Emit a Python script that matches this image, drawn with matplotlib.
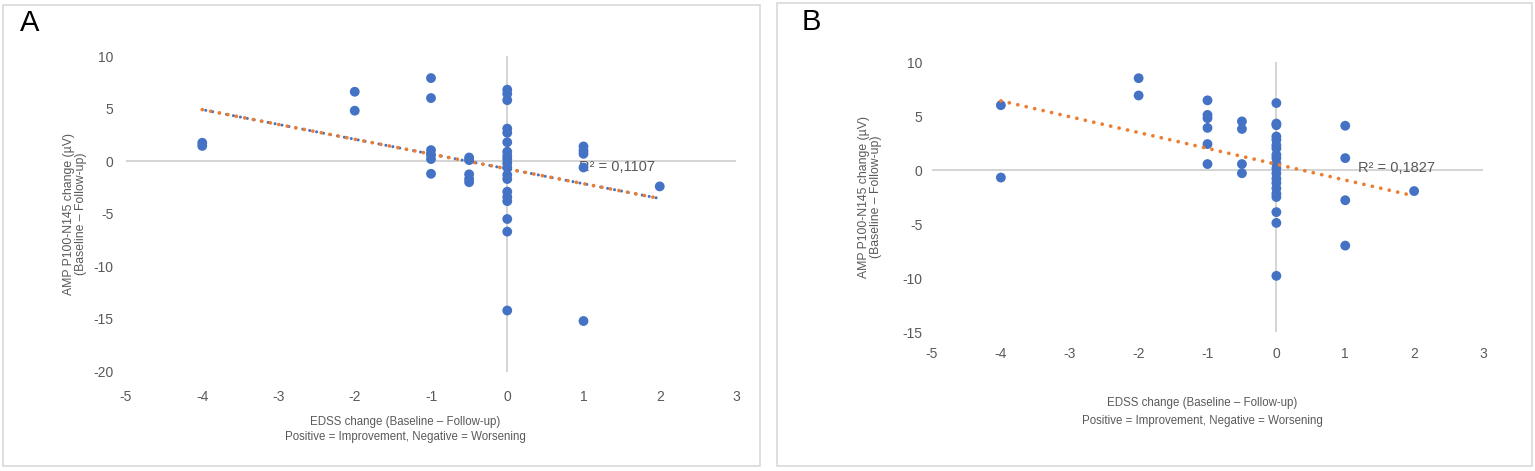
import matplotlib
matplotlib.use("Agg")
import matplotlib.pyplot as plt
from matplotlib.patches import Rectangle

plt.rcParams['font.family'] = ['Liberation Sans', 'DejaVu Sans']
plt.rcParams['axes.unicode_minus'] = False

# ---------------- data ----------------
xticks = [-5, -4, -3, -2, -1, 0, 1, 2, 3]
yticks_A = [10, 5, 0, -5, -10, -15, -20]
yticks_B = [10, 5, 0, -5, -10, -15]

A_x = [-4, -4,
       -2, -2,
       -1, -1, -1, -1, -1, -1,
       -0.5, -0.5, -0.5, -0.5, -0.5,
       0, 0, 0, 0, 0, 0, 0, 0, 0, 0, 0, 0, 0, 0, 0, 0, 0, 0, 0,
       1, 1, 1, 1, 1,
       2]
A_y = [1.75, 1.45,
       6.6, 4.8,
       7.9, 6.0, 1.05, 0.6, 0.2, -1.2,
       0.35, 0.1, -1.25, -1.7, -2.0,
       6.8, 6.4, 5.8, 3.1, 2.7, 1.8, 0.9, 0.5, 0.2, -0.2, -0.6, -1.3, -1.7,
       -2.9, -3.4, -3.8, -5.5, -6.7, -14.2,
       1.4, 1.0, 0.7, -0.6, -15.2,
       -2.4]

B_x = [-4, -4,
       -2, -2,
       -1, -1, -1, -1, -1, -1,
       -0.5, -0.5, -0.5, -0.5,
       0, 0, 0, 0, 0, 0, 0, 0, 0, 0, 0, 0, 0, 0, 0, 0, 0, 0, 0, 0,
       1, 1, 1, 1,
       2]
B_y = [6.0, -0.7,
       8.5, 6.9,
       6.45, 5.1, 4.8, 3.9, 2.4, 0.55,
       4.5, 3.8, 0.55, -0.3,
       6.2, 4.3, 4.15, 3.1, 2.8, 2.3, 2.0, 1.4, 1.1, 0.6, 0.15, -0.8, -1.2,
       -1.7, -2.2, -2.5, -3.9, -4.9, -9.8, -0.3,
       4.1, 1.1, -2.8, -7.0,
       -1.95]

trend_x = [-4, 2]
trend_A = [4.9, -3.55]
trend_B = [6.4, -2.4]

r2_A = "R² = 0,1107"
r2_B = "R² = 0,1827"

xlabel_1 = "EDSS change (Baseline – Follow-up)"
xlabel_2 = "Positive = Improvement, Negative = Worsening"
ylabel = "AMP P100-N145 change (µV)\n(Baseline – Follow-up)"

# ---------------- figure ----------------
W, H = 1535, 471
fig = plt.figure(figsize=(W / 100, H / 100), dpi=100)
fig.patch.set_facecolor('white')

def rect(l, r, t, b):
    return [l / W, 1 - b / H, (r - l) / W, (b - t) / H]

TXT = '#595959'
GRID = '#c9c9c9'
BLUE = '#4472C4'
ORANGE = '#ED7D31'

# panel frames
for (l, t, r, b) in [(3, 5, 760, 466), (777, 3, 1532, 466)]:
    fig.patches.append(Rectangle((l / W, 1 - b / H), (r - l) / W, (b - t) / H,
                                 transform=fig.transFigure, facecolor='none',
                                 edgecolor='#d9d9d9', lw=1.2))

def style(ax, ylim, yticks):
    ax.set_xlim(-5, 3)
    ax.set_ylim(*ylim)
    for s in ax.spines.values():
        s.set_visible(False)
    ax.axhline(0, color=GRID, lw=1.1, zorder=1)
    ax.axvline(0, color=GRID, lw=1.1, zorder=1)
    ax.set_xticks(xticks)
    ax.set_yticks(yticks)
    ax.tick_params(length=0, labelsize=10, labelcolor=TXT)
    ax.set_facecolor('none')

DOT = (0, (0.01, 2.3))

# Panel A
axA = fig.add_axes(rect(126, 736, 56, 371.5))
style(axA, (-20, 10), yticks_A)
axA.tick_params(axis='x', pad=13)
axA.tick_params(axis='y', pad=9)
axA.text(0.94, -0.52, r2_A, fontsize=10.5, color=TXT, ha='left', va='center', zorder=2)
axA.plot(trend_x, trend_A, color=BLUE, lw=2.2, linestyle=(1.15, (0.01, 2.3)),
         dash_capstyle='round', zorder=2)
axA.plot(trend_x, trend_A, color=ORANGE, lw=2.7, linestyle=DOT,
         dash_capstyle='round', zorder=2)
axA.scatter(A_x, A_y, s=50, color=BLUE, edgecolors='none', zorder=3)

# Panel B
axB = fig.add_axes(rect(932, 1483, 62, 332))
style(axB, (-15, 10), yticks_B)
axB.tick_params(axis='x', pad=11)
axB.tick_params(axis='y', pad=7)
axB.text(1.18, 0.2, r2_B, fontsize=10.5, color=TXT, ha='left', va='center', zorder=2)
axB.scatter(B_x, B_y, s=50, color=BLUE, edgecolors='none', zorder=3)
axB.plot(trend_x, trend_B, color=ORANGE, lw=2.7, linestyle=DOT,
         dash_capstyle='round', zorder=4)

# axis titles
for cx, y1, y2 in [(405, 421.7, 437), (1202, 403, 421)]:
    fig.text(cx / W, 1 - y1 / H, xlabel_1, fontsize=8.3, color=TXT, ha='center', va='center')
    fig.text(cx / W, 1 - y2 / H, xlabel_2, fontsize=8.3, color=TXT, ha='center', va='center')

for cx, cy in [(75, 214), (870, 197)]:
    fig.text(cx / W, 1 - cy / H, ylabel, fontsize=8.8, color=TXT, rotation=90,
             ha='center', va='center', multialignment='center', linespacing=1.1)

# panel letters
fig.text(20 / W, 1 - 23 / H, 'A', fontsize=21, color='black', ha='left', va='center')
fig.text(802 / W, 1 - 22 / H, 'B', fontsize=21, color='black', ha='left', va='center')

fig.savefig('out.png', dpi=100, facecolor='white')
